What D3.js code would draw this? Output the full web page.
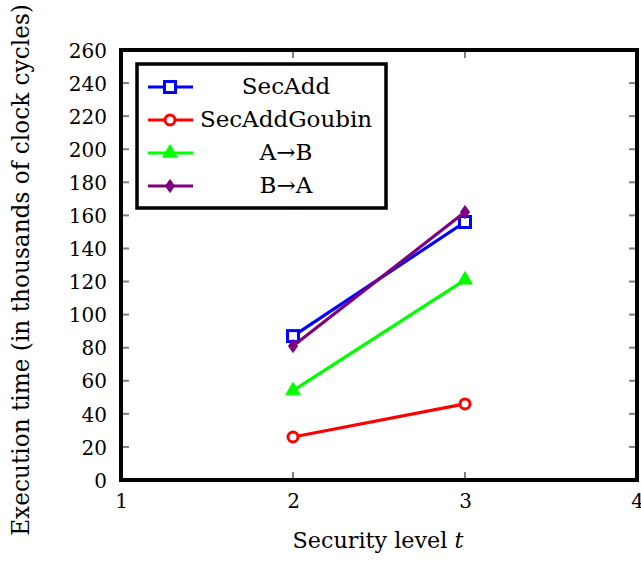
<!DOCTYPE html>
<html>
<head>
<meta charset="utf-8">
<script src="https://cdn.jsdelivr.net/npm/d3@7"></script>
<style>
  html, body { margin: 0; padding: 0; background: #fff; }
  svg { display: block; }
</style>
</head>
<body>
<svg id="chart" width="641" height="562"></svg>
<script>
// Security levels and measured execution times (thousands of clock cycles)
const levels = [2, 3];
const secAdd = [87, 156];
const secAddGoubin = [26, 46];
const aToB = [54, 121];
const bToA = [81, 162];

const xTicks = [1, 2, 3, 4];
const yTicks = [0, 20, 40, 60, 80, 100, 120, 140, 160, 180, 200, 220, 240, 260];

const seriesNames = ["SecAdd", "SecAddGoubin", "A\u2192B", "B\u2192A"];
const seriesValues = [secAdd, secAddGoubin, aToB, bToA];
const seriesColors = ["#0000ff", "#ff0000", "#00ff00", "#7f007f"];
const seriesMarkers = ["square", "circle", "triangle", "diamond"];

const FONT = "DejaVu Serif";
const svg = d3.select("#chart");
const m = { left: 121, right: 637, top: 50, bottom: 480 };

const x = d3.scaleLinear().domain([1, 4]).range([m.left, m.right]);
const y = d3.scaleLinear().domain([0, 260]).range([m.bottom, m.top]);

// fit a text element to a given width by scaling its font size
function fitWidth(sel, base, width) {
  sel.attr("font-size", base);
  const w = sel.node().getComputedTextLength();
  sel.attr("font-size", base * width / w);
}

// inner ticks (gray, pointing inward on all four sides)
const tickLen = 8;
const gTicks = svg.append("g").attr("stroke", "#7f7f7f").attr("stroke-width", 2);
yTicks.filter(v => v > 0 && v < 260).forEach(v => {
  gTicks.append("line").attr("x1", m.left).attr("x2", m.left + tickLen).attr("y1", y(v)).attr("y2", y(v));
  gTicks.append("line").attr("x1", m.right).attr("x2", m.right - tickLen).attr("y1", y(v)).attr("y2", y(v));
});
xTicks.filter(v => v > 1 && v < 4).forEach(v => {
  gTicks.append("line").attr("x1", x(v)).attr("x2", x(v)).attr("y1", m.bottom).attr("y2", m.bottom - tickLen);
  gTicks.append("line").attr("x1", x(v)).attr("x2", x(v)).attr("y1", m.top).attr("y2", m.top + tickLen);
});

// axis tick labels via d3 axes (domain and tick lines hidden)
const yAxis = svg.append("g")
  .attr("transform", `translate(${m.left},0)`)
  .call(d3.axisLeft(y).tickValues(yTicks).tickSize(0).tickPadding(14).tickFormat(d3.format("d")));
const xAxis = svg.append("g")
  .attr("transform", `translate(0,${m.bottom})`)
  .call(d3.axisBottom(x).tickValues(xTicks).tickSize(0).tickPadding(14).tickFormat(d3.format("d")));
[yAxis, xAxis].forEach(a => {
  a.select(".domain").remove();
  a.attr("font-family", FONT).attr("font-size", 20);
  a.selectAll("text").attr("fill", "#000");
});
yAxis.selectAll("text").attr("dy", "0.36em");

// axis titles
const xTitle = svg.append("text")
  .attr("x", 378).attr("y", 548)
  .attr("text-anchor", "middle").attr("font-family", FONT);
xTitle.append("tspan").text("Security level ");
xTitle.append("tspan").attr("font-style", "italic").text("t");
fitWidth(xTitle, 20, 171);

const yTitle = svg.append("text")
  .attr("transform", "translate(29,270) rotate(-90)")
  .attr("text-anchor", "middle").attr("font-family", FONT)
  .text("Execution time (in thousands of clock cycles)");
fitWidth(yTitle, 20, 532);

// marker drawing helper
function drawMarker(g, kind, cx, cy, color) {
  if (kind === "square") {
    g.append("rect").attr("x", cx - 5.5).attr("y", cy - 5.5).attr("width", 11).attr("height", 11)
      .attr("fill", "#fff").attr("stroke", color).attr("stroke-width", 3);
  } else if (kind === "circle") {
    g.append("circle").attr("cx", cx).attr("cy", cy).attr("r", 5)
      .attr("fill", "#fff").attr("stroke", color).attr("stroke-width", 3);
  } else if (kind === "triangle") {
    g.append("path").attr("d", d3.symbol(d3.symbolTriangle, 90)())
      .attr("transform", `translate(${cx},${cy})`).attr("fill", color).attr("stroke", color).attr("stroke-width", 1);
  } else {
    g.append("path").attr("d", "M0,-6.5L4.5,0L0,6.5L-4.5,0Z")
      .attr("transform", `translate(${cx},${cy})`).attr("fill", color).attr("stroke", color).attr("stroke-width", 1);
  }
}

// series lines and markers
const line = d3.line().x(d => x(d[0])).y(d => y(d[1]));
seriesValues.forEach((vals, i) => {
  const pts = levels.map((l, j) => [l, vals[j]]);
  const g = svg.append("g");
  g.append("path").attr("d", line(pts)).attr("fill", "none")
    .attr("stroke", seriesColors[i]).attr("stroke-width", 3.2);
  pts.forEach(p => drawMarker(g, seriesMarkers[i], x(p[0]), y(p[1]), seriesColors[i]));
});

// frame
svg.append("rect")
  .attr("x", m.left).attr("y", m.top)
  .attr("width", m.right - m.left).attr("height", m.bottom - m.top)
  .attr("fill", "none").attr("stroke", "#000").attr("stroke-width", 4);

// legend
const lg = svg.append("g");
lg.append("rect").attr("x", 137).attr("y", 64).attr("width", 249).attr("height", 144)
  .attr("fill", "#fff").attr("stroke", "#000").attr("stroke-width", 3.5);
seriesNames.forEach((name, i) => {
  const cy = 87 + i * 33;
  lg.append("line").attr("x1", 148).attr("x2", 193).attr("y1", cy).attr("y2", cy)
    .attr("stroke", seriesColors[i]).attr("stroke-width", 3.2);
  drawMarker(lg, seriesMarkers[i], 170, cy, seriesColors[i]);
  lg.append("text").attr("x", 286).attr("y", cy + 7).attr("text-anchor", "middle")
    .attr("font-family", FONT).attr("font-size", 23).attr("fill", "#000").text(name);
});
</script>
</body>
</html>
